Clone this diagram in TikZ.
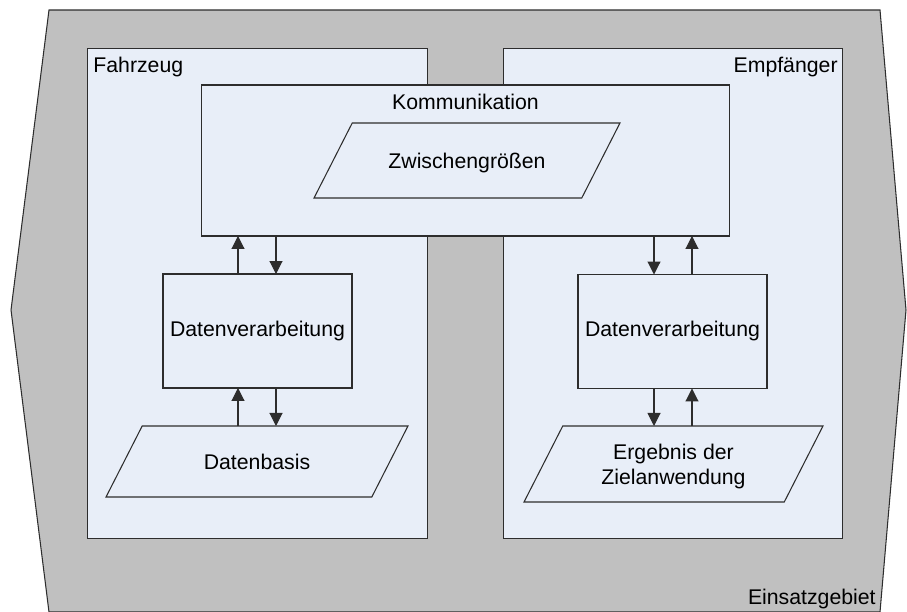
\documentclass[tikz,border=0pt]{standalone}
\usepackage{fontspec}
\setmainfont{Liberation Sans}
\usetikzlibrary{shapes.geometric,arrows.meta,positioning}
\definecolor{gebiet}{RGB}{192,192,192}
\definecolor{hell}{RGB}{232,238,248}
\definecolor{linie}{RGB}{45,45,45}

\begin{document}
\begin{tikzpicture}[x=0.02cm,y=-0.02cm,font=\fontsize{12.1}{14.5}\selectfont]
  \tikzstyle{bereich} = [rectangle, draw=linie, fill=hell, line width=0.6pt, outer sep=0pt, inner sep=0pt]
  \tikzstyle{daten} = [trapezium, trapezium left angle=63, trapezium right angle=117, trapezium stretches body, draw=linie, fill=hell, line width=0.6pt, outer sep=0pt, inner xsep=0pt, align=center, text height=0.5cm, text depth=0.19cm]
  \tikzstyle{pfeil} = [-{Triangle[length=7.4pt,width=7.4pt]}, line width=0.6pt, draw=linie]

  \useasboundingbox (0,0) rectangle (907,612);

  % Einsatzgebiet
  \draw[fill=gebiet, draw=linie, line width=0.6pt] (49,10) -- (880,10) -- (906,310) -- (880,612) -- (49,612) -- (11,310) -- cycle;
  \node[anchor=base east, inner sep=0pt] (gebiettext) at (876,604) {Einsatzgebiet};

  % Fahrzeug und Empfaenger
  \node[bereich, minimum width=6.82cm, minimum height=9.82cm] (fahr) at (257.5,293.5) {};
  \node[bereich, minimum width=6.8cm, minimum height=9.82cm] (empf) at (673,293.5) {};
  \node[anchor=north west, inner sep=0pt] (fahrtext) at ([xshift=0.12cm,yshift=-0.18cm]fahr.north west) {Fahrzeug};
  \node[anchor=north east, inner sep=0pt] (empftext) at ([xshift=-0.1cm,yshift=-0.18cm]empf.north east) {Empfänger};

  % Kommunikation
  \node[bereich, minimum width=10.58cm, minimum height=3.02cm] (komm) at (465.5,160.5) {};
  \node[anchor=north, inner sep=0pt] (kommtext) at ([yshift=-0.18cm]komm.north) {Kommunikation};
  \node[daten, minimum width=6.12cm, inner ysep=0.405cm] (zwisch) at (467,160.5) {Zwischengrößen};

  % Verarbeitung
  \node[bereich, minimum width=3.78cm, minimum height=2.28cm] (dvl) at (257.5,331) {Datenverarbeitung};
  \node[bereich, minimum width=3.78cm, minimum height=2.28cm] (dvr) at (672.5,331.5) {Datenverarbeitung};
  \node[daten, minimum width=6.04cm, inner ysep=0.365cm] (basis) at (257,461.5) {Datenbasis};
  \node[daten, minimum width=5.98cm, inner ysep=0.16cm, text height=1.01cm, text depth=0.19cm] (ergebnis) at (673.5,464) {Ergebnis der\\Zielanwendung};

  \draw[pfeil] ([xshift=-0.39cm]dvl.north) -- ([xshift=-0.39cm]dvl.north |- komm.south);
  \draw[pfeil] ([xshift=0.37cm]dvl.north |- komm.south) -- ([xshift=0.37cm]dvl.north);
  \draw[pfeil] ([xshift=-0.39cm]dvl.south |- basis.north) -- ([xshift=-0.39cm]dvl.south);
  \draw[pfeil] ([xshift=0.37cm]dvl.south) -- ([xshift=0.37cm]dvl.south |- basis.north);

  \draw[pfeil] ([xshift=-0.37cm]dvr.north |- komm.south) -- ([xshift=-0.37cm]dvr.north);
  \draw[pfeil] ([xshift=0.39cm]dvr.north) -- ([xshift=0.39cm]dvr.north |- komm.south);
  \draw[pfeil] ([xshift=-0.37cm]dvr.south) -- ([xshift=-0.37cm]dvr.south |- ergebnis.north);
  \draw[pfeil] ([xshift=0.39cm]dvr.south |- ergebnis.north) -- ([xshift=0.39cm]dvr.south);
\end{tikzpicture}
\end{document}
